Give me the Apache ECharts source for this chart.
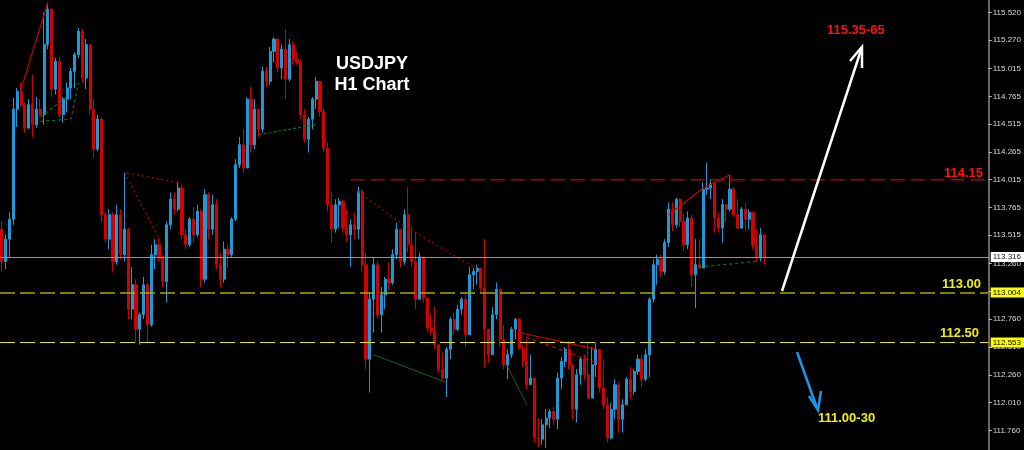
<!DOCTYPE html>
<html><head><meta charset="utf-8">
<script src="https://cdn.jsdelivr.net/npm/echarts@6/dist/echarts.min.js"></script>
<style>html,body{margin:0;padding:0;background:#000}#c{width:1024px;height:450px}</style>
</head><body><div id="c"></div>
<script>
// ---- data (USDJPY H1) ----
const firstOpen = 113.57;
const closes = [
113.28,113.48,113.66,114.65,114.81,114.69,114.48,114.69,114.51,114.65,
114.60,115.23,115.55,114.83,115.08,114.60,114.74,114.84,114.99,115.14,
115.35,114.93,115.23,114.65,114.29,114.56,113.70,113.48,113.70,113.28,
113.70,113.34,113.57,112.85,113.07,112.67,112.80,113.07,112.71,113.34,
113.43,113.31,113.10,113.61,113.84,113.75,113.94,113.52,113.43,113.66,
113.52,113.73,113.12,113.88,113.57,113.79,113.25,113.12,113.39,113.34,
113.66,114.15,114.33,114.12,114.74,114.33,114.65,114.47,114.99,114.90,
115.17,115.28,115.02,115.19,114.92,115.23,115.10,115.07,114.60,114.38,
114.56,114.74,114.90,114.63,114.30,113.79,113.57,113.79,113.82,113.58,
113.52,113.61,113.57,113.91,113.25,112.40,112.94,113.25,112.80,112.98,
113.12,113.09,113.34,113.57,113.28,113.70,113.43,113.28,112.94,113.32,
112.95,112.68,112.65,112.53,112.31,112.23,112.49,112.76,112.67,112.85,
112.94,112.62,113.16,113.19,113.22,113.04,112.67,112.44,112.80,113.03,
112.58,112.35,112.44,112.67,112.76,112.50,112.38,112.17,112.23,111.69,
111.68,111.81,111.87,111.93,111.86,112.23,112.38,112.49,112.35,111.95,
112.26,112.40,112.26,112.05,112.35,112.49,112.14,111.99,111.69,111.95,
112.17,111.86,111.99,112.22,112.11,112.29,112.40,112.22,112.44,112.94,
113.25,113.30,113.19,113.45,113.75,113.61,113.84,113.64,113.43,113.67,
113.16,113.25,113.22,113.93,113.94,113.98,113.67,113.58,113.79,113.75,
113.93,113.70,113.58,113.75,113.66,113.72,113.43,113.31,113.52,113.316];
const highs = [
113.64,113.52,113.72,114.75,114.84,114.89,114.71,114.74,114.96,114.76,
114.74,115.52,115.61,115.50,115.11,115.12,114.76,114.89,115.02,115.16,
115.38,115.37,115.28,115.20,114.74,114.60,114.57,113.72,113.75,113.72,
113.79,113.75,114.08,113.58,113.23,113.12,112.82,113.14,113.09,113.43,
113.48,113.49,113.34,113.64,113.90,113.90,113.99,113.97,113.57,113.68,
113.77,113.79,113.75,113.93,113.90,113.88,113.84,113.36,113.46,113.43,
113.68,114.20,114.40,114.47,114.76,114.85,114.74,114.65,115.03,115.03,
115.21,115.30,115.29,115.23,115.37,115.28,115.26,115.17,115.10,114.65,
114.58,114.76,114.94,114.83,114.66,114.35,113.91,113.84,113.85,113.84,
113.75,113.66,113.72,113.95,113.93,113.36,113.00,113.32,113.28,113.05,
113.14,113.27,113.39,113.63,113.54,113.75,113.95,113.59,113.54,113.36,
113.32,112.95,112.80,112.87,112.53,112.46,112.51,112.78,112.82,112.89,
112.96,113.00,113.23,113.22,113.25,113.21,113.48,112.67,112.87,113.09,
113.03,112.71,112.49,112.69,112.77,112.77,112.53,112.58,112.44,112.22,
111.87,111.86,111.95,111.95,111.97,112.28,112.42,112.51,112.56,112.35,
112.31,112.42,112.44,112.55,112.51,112.55,112.49,112.40,112.06,112.01,
112.22,112.19,112.04,112.24,112.33,112.31,112.44,112.44,112.49,112.96,
113.30,113.34,113.34,113.48,113.81,113.81,113.85,113.85,113.70,113.73,
113.70,113.48,113.48,113.99,114.17,114.02,113.97,113.72,113.84,113.77,
114.06,113.95,113.84,113.77,113.81,113.75,113.70,113.57,113.58,113.52];
const lows = [
113.19,113.21,113.32,113.61,114.49,114.67,114.44,114.47,114.40,114.48,
114.58,114.51,115.19,114.76,114.78,114.57,114.53,114.62,114.74,114.84,
115.11,114.89,114.83,114.60,114.21,114.27,113.63,113.45,113.39,113.18,
113.25,113.30,113.28,112.76,112.76,112.55,112.53,112.76,112.55,112.69,
113.21,113.28,113.05,112.91,113.57,113.70,113.73,113.48,113.39,113.41,
113.45,113.50,113.05,113.09,113.48,113.52,113.21,113.05,113.09,113.22,
113.31,113.64,114.12,114.08,114.12,114.26,114.29,114.40,114.44,114.85,
114.87,115.07,114.98,114.92,114.74,114.90,115.05,115.05,114.56,114.35,
114.26,114.47,114.65,114.58,114.26,113.73,113.45,113.54,113.58,113.54,
113.46,113.23,113.48,113.48,113.18,112.31,112.10,112.64,112.76,112.64,
112.85,113.03,113.07,113.30,113.23,113.25,113.36,113.23,112.85,112.94,
112.91,112.64,112.62,112.49,112.28,112.22,112.06,112.40,112.62,112.65,
112.80,112.51,112.62,113.03,113.07,113.00,112.33,112.37,112.44,112.76,
112.51,112.31,112.22,112.41,112.58,112.49,112.33,112.13,112.19,111.65,
111.61,111.63,111.60,111.78,111.81,111.77,112.13,112.33,112.31,111.86,
111.83,112.17,112.22,112.04,112.05,112.24,112.10,111.95,111.65,111.68,
111.86,111.74,111.74,111.99,112.04,112.08,112.26,112.15,112.20,112.24,
112.91,113.07,113.14,113.16,113.41,113.55,113.58,113.59,113.37,113.39,
113.05,112.86,113.21,113.22,113.88,113.84,113.54,113.54,113.45,113.63,
113.73,113.68,113.57,113.57,113.55,113.57,113.39,113.28,113.28,113.25];
const futureSlots = 58;
const yTickValues = [111.760,112.010,112.260,112.510,112.760,113.010,113.260,113.515,
  113.765,114.015,114.265,114.515,114.765,115.015,115.270,115.520];
const currentPrice = 113.316;
const support1 = 113.004;
const support2 = 112.553;
const resistance = 114.015;
// annotation lines [candle index, price]
const redTrend1 = [[5,114.83],[12,115.61]];
const greenDash1 = [[10,114.58],[17,114.76]];
const greenDash2 = [[10,114.54],[18,114.56],[20,114.89]];
const greenDash3 = [[67,114.42],[82,114.51]];
const redDot1 = [[46,113.99],[32,114.08],[41,113.49]];
const resistLine = [[91,resistance],[257,resistance]];
const redDot2 = [[93,113.91],[105,113.60],[124,113.21]];
const greenSolid1 = [[97,112.44],[116,112.19]];
const greenSolid2 = [[132,112.33],[137,111.99]];
const redSolid2 = [[135,112.64],[155,112.49]];
const redDash2 = [[135,112.62],[155,112.37]];
const redSolid3 = [[174,113.70],[183,113.94],[190,114.06],[190,113.99]];
const greenDot4 = [[182,113.23],[197,113.28]];

// ---- build ----
const n = closes.length + futureSlots;
const cats = Array.from({length:n},(_, i)=>String(i));
const candles = [];
for (let i=0;i<n;i++){
  if (i<closes.length){
    const o = i===0?firstOpen:closes[i-1], c = closes[i];
    candles.push([o,c,Math.min(lows[i],o,c),Math.max(highs[i],o,c)]);
  } else candles.push('-');
}
function seg(data,color,type,width){
  return {type:'line',data:data,symbol:'none',silent:true,z:4,animation:false,
    lineStyle:{color:color,type:type,width:width||1}};
}
const chart = echarts.init(document.getElementById('c'),null,{renderer:'canvas'});
const tag = (v,bg,fg)=>({show:true,position:'end',distance:2,formatter:()=>v.toFixed(3),
  backgroundColor:bg,color:fg,fontSize:8,fontFamily:'Liberation Sans',padding:[1,3,1,2]});
chart.setOption({
  backgroundColor:'#000',
  animation:false,
  grid:{left:0,right:35,top:0,bottom:0},
  xAxis:{type:'category',data:cats,show:false,boundaryGap:true},
  yAxis:{type:'value',position:'right',min:111.583,max:115.632,
    axisLine:{show:true,lineStyle:{color:'#8c8c8c',width:1.5}},
    axisTick:{show:true,customValues:yTickValues,length:3,lineStyle:{color:'#c8c8c8'}},
    axisLabel:{show:true,customValues:yTickValues,formatter:v=>v.toFixed(3),color:'#d8d8d8',
      fontSize:8,fontFamily:'Liberation Sans',margin:4},
    splitLine:{show:false}},
  series:[
    {type:'candlestick',data:candles,barWidth:2.6,z:3,
      itemStyle:{color:'#1b9ad8',color0:'#d20000',borderColor:'#1b9ad8',borderColor0:'#d20000',
        borderColorDoji:'#1b9ad8',borderWidth:1},
      markLine:{silent:true,symbol:'none',z:10,animation:false,
        data:[
          {yAxis:currentPrice,lineStyle:{color:'#8a96a8',type:'solid',width:1.2},label:tag(currentPrice,'#ffffff','#202020')},
          {yAxis:support1,lineStyle:{color:'#a8a800',type:[15,5],width:1.5},label:tag(support1,'#ffff00','#000')},
          {yAxis:support2,lineStyle:{color:'#e6e600',type:[15,5],width:1.2},label:tag(support2,'#ffff00','#000')}
        ]}},
    seg(redTrend1,'#c80000','solid',1.2),
    seg(greenDash1,'#0b7a0b',[3,3],1.2),
    seg(greenDash2,'#0b7a0b',[3,3],1.2),
    seg(greenDash3,'#0b7a0b',[3,2],1.2),
    seg(redDot1,'#c00000',[2,3],1.2),
    seg(resistLine,'#b00000',[14,6],1.5),
    seg(redDot2,'#b00000',[2,3],1.2),
    seg(greenSolid1,'#0b6a0b','solid',1),
    seg(greenSolid2,'#0b6a0b','solid',1),
    seg(redSolid2,'#d00000','solid',1.2),
    seg(redDash2,'#d00000',[4,3],1.2),
    seg(redSolid3,'#c80000','solid',1.2),
    seg(greenDot4,'#0b7a0b',[3,3],1.2)
  ],
  graphic:[
    {type:'text',style:{text:'USDJPY',x:372,y:64,align:'center',verticalAlign:'middle',
      fill:'#fff',font:'bold 18px "Liberation Sans"'},z:20},
    {type:'text',style:{text:'H1 Chart',x:372,y:85,align:'center',verticalAlign:'middle',
      fill:'#fff',font:'bold 18px "Liberation Sans"'},z:20},
    {type:'text',style:{text:'115.35-65',x:827,y:30,verticalAlign:'middle',fill:'#ff1010',
      font:'bold 13px "Liberation Sans"'},z:20},
    {type:'text',style:{text:'114.15',x:944,y:173,verticalAlign:'middle',fill:'#ff1010',
      font:'bold 13px "Liberation Sans"'},z:20},
    {type:'text',style:{text:'113.00',x:942,y:284,verticalAlign:'middle',fill:'#f0f000',
      font:'bold 13px "Liberation Sans"'},z:20},
    {type:'text',style:{text:'112.50',x:940,y:333,verticalAlign:'middle',fill:'#f0f000',
      font:'bold 13px "Liberation Sans"'},z:20},
    {type:'text',style:{text:'111.00-30',x:818,y:418,verticalAlign:'middle',fill:'#f0f000',
      font:'bold 13px "Liberation Sans"'},z:20},
    {type:'polyline',shape:{points:[[782,291],[861,50]]},style:{stroke:'#fff',lineWidth:2.5,fill:null},z:20},
    {type:'polyline',shape:{points:[[850,61],[862,47],[862,68]]},style:{stroke:'#fff',lineWidth:2.5,fill:null},z:20},
    {type:'polyline',shape:{points:[[797,352],[817,408]]},style:{stroke:'#1e96e8',lineWidth:2.5,fill:null},z:20},
    {type:'polyline',shape:{points:[[809,396],[818,410],[821,391]]},style:{stroke:'#1e96e8',lineWidth:2.5,fill:null},z:20}
  ]
});
</script></body></html>
